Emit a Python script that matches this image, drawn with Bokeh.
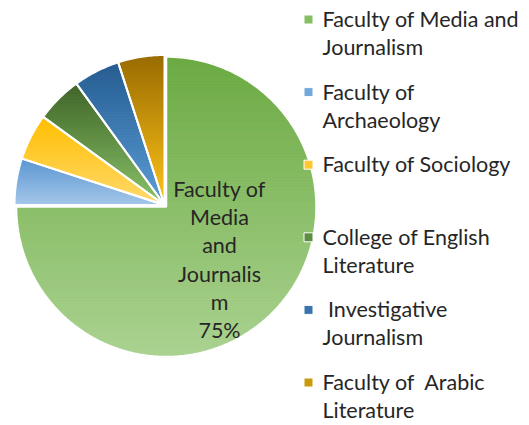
import math
from bokeh.plotting import figure
from bokeh.models import Range1d
from bokeh.core.properties import value
from bokeh.embed import file_html
from bokeh.resources import INLINE

# ---------------- data ----------------
categories = ["Faculty of Media and Journalism", "Faculty of Archaeology",
              "Faculty of Sociology", "College of English Literature",
              "\u00a0Investigative Journalism", "Faculty of \u00a0Arabic Literature"]
shares = [75, 5, 5, 5, 5, 5]
legend_lines = [["Faculty of Media and", "Journalism"],
                ["Faculty of", "Archaeology"],
                ["Faculty of Sociology"],
                ["College of English", "Literature"],
                ["\u00a0Investigative", "Journalism"],
                ["Faculty of \u00a0Arabic", "Literature"]]
slice_label_lines = ["Faculty of", "Media", "and", "Journalis", "m"]

top_colors = ["#6BAA42", "#5B96D2", "#FFBE00", "#3F6428", "#255C90", "#996C00"]
bottom_colors = ["#AAD290", "#A6C8EA", "#FFDA6E", "#8CC46A", "#5C9ED8", "#FFC41A"]
legend_colors = ["#86BF62", "#72A8DC", "#FFC833", "#5E8C40", "#3B74AC", "#C99A0A"]

# ---------------- layout (reference pixel space) ----------------
W, H = 529, 425
def fy(Y):
    return H - Y

CX, CY, R = 164.0, fy(204.5), 150.0
EXPLODE = [2.5, 0, 0, 0, 0, 0]
FONT = value("Lato")
FS = "21.5px"
TXT = "#262626"
TEXT_SHIFT = -8.5   # screen px, compensates baseline placement

p = figure(width=W, height=H, output_backend="svg", toolbar_location=None,
           x_range=Range1d(0, W), y_range=Range1d(0, H),
           min_border=0, match_aspect=False)
p.axis.visible = False
p.grid.visible = False
p.outline_line_color = None
p.background_fill_color = "white"
p.border_fill_color = "white"


def hex2rgb(h):
    h = h.lstrip("#")
    return [int(h[i:i + 2], 16) for i in (0, 2, 4)]


def mix(c1, c2, t):
    a, b = hex2rgb(c1), hex2rgb(c2)
    return "#%02x%02x%02x" % tuple(int(round(a[i] + (b[i] - a[i]) * t)) for i in range(3))


def clip_band(poly, y0, y1):
    def clip_edge(pts, inside, yc):
        out = []
        for i in range(len(pts)):
            cur, prev = pts[i], pts[i - 1]
            def ix(pp, qq):
                t = (yc - pp[1]) / (qq[1] - pp[1])
                return (pp[0] + t * (qq[0] - pp[0]), yc)
            if inside(cur):
                if not inside(prev):
                    out.append(ix(prev, cur))
                out.append(cur)
            elif inside(prev):
                out.append(ix(prev, cur))
        return out
    pts = clip_edge(poly, lambda q: q[1] >= y0, y0)
    if pts:
        pts = clip_edge(pts, lambda q: q[1] <= y1, y1)
    return pts


total = float(sum(shares))
cum = [0.0]
for s in shares:
    cum.append(cum[-1] + s)

band_xs, band_ys, band_cols = [], [], []
out_xs, out_ys = [], []
for i, s in enumerate(shares):
    a0 = 90 - cum[i] / total * 360.0
    a1 = 90 - cum[i + 1] / total * 360.0
    mid = math.radians((a0 + a1) / 2)
    cx = CX + EXPLODE[i] * math.cos(mid)
    cy = CY + EXPLODE[i] * math.sin(mid)
    n = max(8, int(abs(a1 - a0) * 1.5))
    poly = [(cx, cy)]
    for k in range(n + 1):
        a = math.radians(a0 + (a1 - a0) * k / n)
        poly.append((cx + R * math.cos(a), cy + R * math.sin(a)))
    ymin = min(q[1] for q in poly)
    ymax = max(q[1] for q in poly)
    nb = int(math.ceil((ymax - ymin) / 1.5))
    for b in range(nb):
        y0 = ymin + (ymax - ymin) * b / nb
        y1 = ymin + (ymax - ymin) * (b + 1) / nb
        pts = clip_band(poly, y0, y1)
        if len(pts) < 3:
            continue
        t = 1 - ((y0 + y1) / 2 - ymin) / (ymax - ymin)
        band_xs.append([q[0] for q in pts])
        band_ys.append([q[1] for q in pts])
        band_cols.append(mix(top_colors[i], bottom_colors[i], t))
    out_xs.append([q[0] for q in poly])
    out_ys.append([q[1] for q in poly])

p.patches(band_xs, band_ys, fill_color=band_cols, line_color=band_cols,
          line_width=1.0)
p.patches(out_xs, out_ys, fill_color=None, line_color="white", line_width=2)

# slice label
pct = "%d%%" % round(100 * shares[0] / total)
lab_lines = slice_label_lines + [pct]
lab_y = [fy(197 + 28.2 * k) for k in range(len(lab_lines))]
p.text(x=[219] * len(lab_lines), y=lab_y, text=lab_lines, text_font=FONT,
       text_font_size=FS, text_color=TXT, text_align="center",
       text_baseline="alphabetic", y_offset=TEXT_SHIFT)

# legend
lx, ly, lt = [], [], []
mx, my = [], []
for i, lines in enumerate(legend_lines):
    base = 27 + 72.6 * i
    mx.append(308)
    my.append(fy(base - 8))
    for k, t in enumerate(lines):
        lx.append(322)
        ly.append(fy(base + 28 * k))
        lt.append(t)
p.scatter(x=mx, y=my, marker="square", size=9, fill_color=legend_colors,
          line_color="white", line_width=1)
p.text(x=lx, y=ly, text=lt, text_font=FONT, text_font_size=FS,
       text_color=TXT, text_align="left", text_baseline="alphabetic",
       y_offset=TEXT_SHIFT)

open("out.html", "w").write(file_html(p, INLINE))
